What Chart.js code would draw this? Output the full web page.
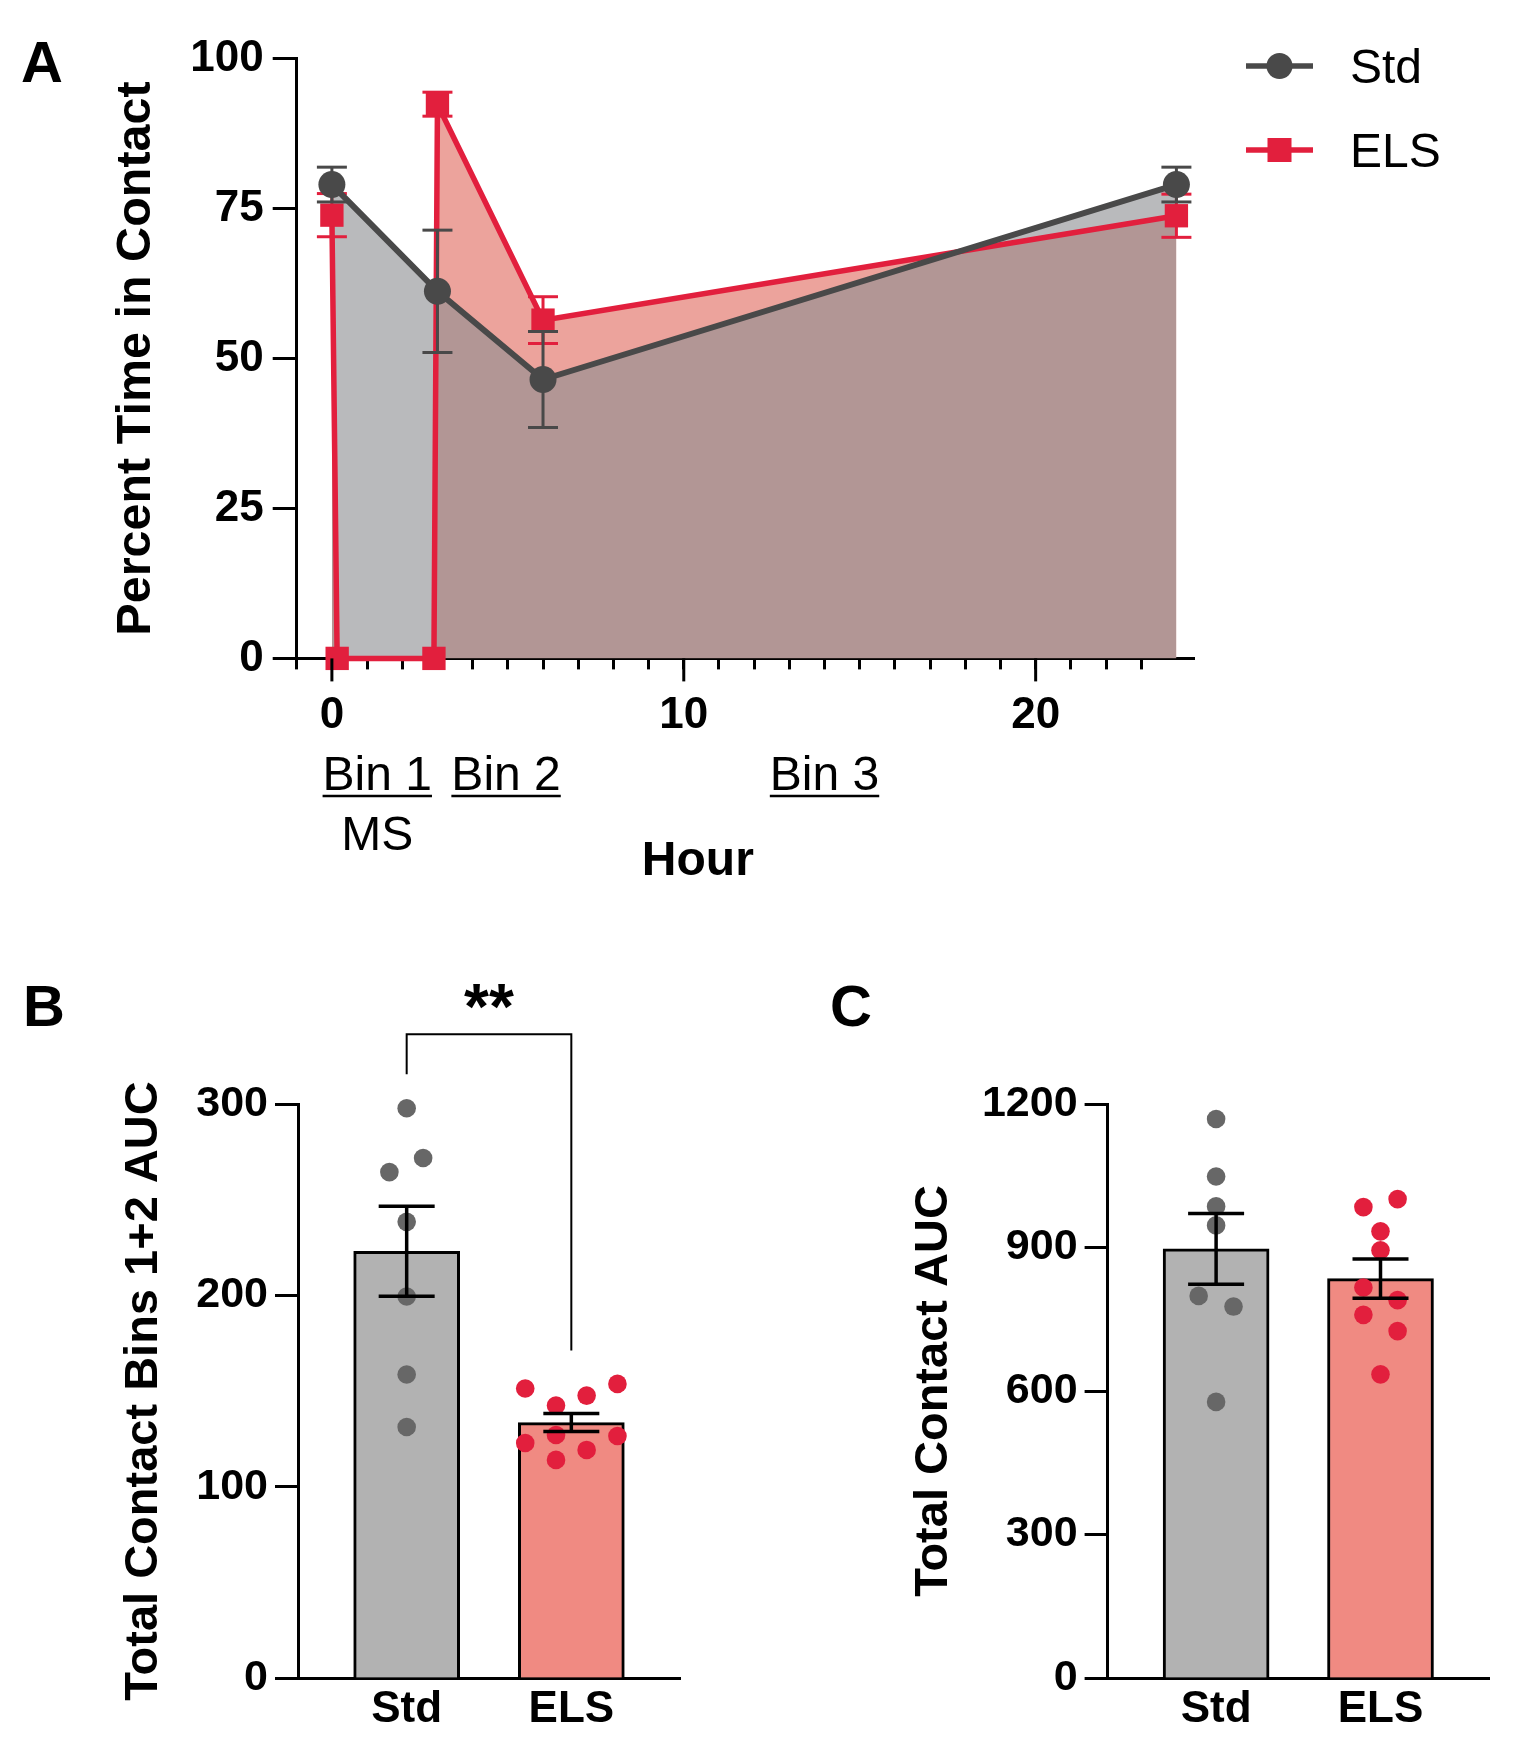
<!DOCTYPE html>
<html>
<head>
<meta charset="utf-8">
<script src="https://cdn.jsdelivr.net/npm/chart.js@4.4.1/dist/chart.umd.min.js"></script>
<style>
  html, body { margin: 0; padding: 0; background: #ffffff; }
  body { width: 1515px; height: 1752px; position: relative; overflow: hidden; }
  canvas { position: absolute; display: block; }
</style>
</head>
<body>
<canvas id="cA" width="1515" height="900" style="left:0px;top:0px;"></canvas>
<canvas id="cB" width="760" height="792" style="left:0px;top:960px;"></canvas>
<canvas id="cC" width="755" height="792" style="left:760px;top:960px;"></canvas>
<script>
// ================= DATA =================
// Panel A : percent time in contact over the day
const hoursStd = [0, 3, 6, 24];
const stdContact = [79.0, 61.2, 46.5, 79.0];
const stdContactSem = [2.9, 10.2, 8.0, 2.9];

const hoursEls = [0, 0.15, 2.9, 3, 6, 24];
const elsContact = [73.9, 0, 0, 92.4, 56.4, 73.8];
const elsContactSem = [3.6, 0, 0, 2.0, 3.9, 3.6];

const hourTickLabels = [0, 10, 20];
const contactTicks = [0, 25, 50, 75, 100];
const binLabels = ['Bin 1', 'Bin 2', 'Bin 3'];
const seriesNames = ['Std', 'ELS'];

// Panel B : total contact bins 1+2 AUC
const groups = ['Std', 'ELS'];
const binsAucMean = [223.0, 133.5];
const binsAucSem = [23.5, 4.7];
const binsAucStd = [297.8, 271.8, 264.4, 238.4, 199.4, 158.6, 131.2];
const binsAucStdJitter = [0, 0.10, -0.105, 0, 0, 0, 0];
const binsAucEls = [151.3, 142.4, 147.6, 153.7, 127.0, 122.8, 126.5, 119.2, 114.0];
const binsAucElsJitter = [-0.28, -0.093, 0.093, 0.28, -0.093, -0.28, 0.28, 0.093, -0.093];
const binsAucTicks = [0, 100, 200, 300];

// Panel C : total contact AUC
const totalAucMean = [897, 835];
const totalAucSem = [74, 41];
const totalAucStd = [1168.7, 1048.4, 985.9, 946.2, 798.8, 776.5, 577.2];
const totalAucStdJitter = [0, 0, 0, 0, -0.106, 0.106, 0];
const totalAucEls = [984.5, 1001.2, 933.8, 894.2, 816.3, 789.9, 759.2, 725.2, 634.8];
const totalAucElsJitter = [-0.104, 0.104, 0, 0, -0.104, 0.104, -0.104, 0.104, 0];
const totalAucTicks = [0, 300, 600, 900, 1200];

// ================= STYLE =================
const FONT = "'Liberation Sans', Arial, Helvetica, sans-serif";
const STD_LINE = '#494949';
const ELS_LINE = '#e21f3d';
const STD_FILL = 'rgba(140,142,145,0.61)';
const ELS_FILL = '#eca39c';
const STD_BAR = '#b2b2b2';
const ELS_BAR = '#f08a82';
const STD_DOT = '#676767';
const ELS_DOT = '#e21f3d';

Chart.defaults.font.family = FONT;
Chart.defaults.color = '#000';
Chart.defaults.animation = false;

function line(ctx, x1, y1, x2, y2) {
  ctx.beginPath(); ctx.moveTo(x1, y1); ctx.lineTo(x2, y2); ctx.stroke();
}

// error bars for the time course (drawn just before each series, after fills)
const lineErrorBars = {
  id: 'lineErrorBars',
  beforeDatasetDraw(chart, args) {
    const ds = chart.data.datasets[args.index];
    if (!ds.sem) return;
    const ctx = chart.ctx, xs = chart.scales.x, ys = chart.scales.y;
    ctx.save();
    ctx.strokeStyle = ds.borderColor;
    ctx.lineWidth = 3;
    ds.data.forEach((p, i) => {
      const s = ds.sem[i];
      if (!s) return;
      const px = xs.getPixelForValue(p.x);
      const t = ys.getPixelForValue(p.y + s), b = ys.getPixelForValue(p.y - s);
      line(ctx, px, t, px, b);
      line(ctx, px - 15, t, px + 15, t);
      line(ctx, px - 15, b, px + 15, b);
    });
    ctx.restore();
  }
};

// error bars for bar charts (on top of everything)
const barErrorBars = {
  id: 'barErrorBars',
  afterDatasetsDraw(chart) {
    const ctx = chart.ctx, xs = chart.scales.x, ys = chart.scales.y;
    chart.data.datasets.forEach(ds => {
      if (ds.type !== 'bar' || !ds.sem) return;
      ctx.save();
      ctx.strokeStyle = '#000';
      ctx.lineWidth = 3.5;
      ds.data.forEach((p, i) => {
        const px = xs.getPixelForValue(p.x);
        const t = ys.getPixelForValue(p.y + ds.sem[i]), b = ys.getPixelForValue(p.y - ds.sem[i]);
        line(ctx, px, t, px, b);
        line(ctx, px - 28, t, px + 28, t);
        line(ctx, px - 28, b, px + 28, b);
      });
      ctx.restore();
    });
  }
};

// ================= PANEL A =================
const annotA = {
  binCenters: [1.29, 4.95, 14.0],
  binBaseline: 790,
  msCenter: 1.29, msBaseline: 850,
  hourCenter: 10.4, hourBaseline: 875,
  legend: { x0: 1246, x1: 1313, textX: 1350, rows: [66, 150] }
};

const panelAExtras = {
  id: 'panelAExtras',
  afterDraw(chart) {
    const ctx = chart.ctx, xs = chart.scales.x;
    const bottom = chart.chartArea.bottom;
    ctx.save();
    // long major ticks
    ctx.strokeStyle = '#000'; ctx.lineWidth = 3;
    hourTickLabels.forEach(v => {
      const px = xs.getPixelForValue(v);
      line(ctx, px, bottom, px, bottom + 23);
    });
    // panel letter
    ctx.fillStyle = '#000';
    ctx.font = `bold 58px ${FONT}`;
    ctx.textAlign = 'left'; ctx.textBaseline = 'alphabetic';
    ctx.fillText('A', 21, 82);
    // bin labels (underlined)
    ctx.font = `48px ${FONT}`;
    ctx.textAlign = 'center';
    binLabels.forEach((t, i) => {
      const cx = xs.getPixelForValue(annotA.binCenters[i]);
      ctx.fillText(t, cx, annotA.binBaseline);
      const w = ctx.measureText(t).width;
      ctx.lineWidth = 2.5;
      line(ctx, cx - w / 2, annotA.binBaseline + 6, cx + w / 2, annotA.binBaseline + 6);
    });
    ctx.fillText('MS', xs.getPixelForValue(annotA.msCenter), annotA.msBaseline);
    // x title
    ctx.font = `bold 48px ${FONT}`;
    ctx.fillText('Hour', xs.getPixelForValue(annotA.hourCenter), annotA.hourBaseline);
    // legend
    const L = annotA.legend;
    chart.data.datasets.forEach((ds, i) => {
      const y = L.rows[i];
      ctx.strokeStyle = ds.borderColor; ctx.lineWidth = 5.5;
      line(ctx, L.x0, y, L.x1, y);
      ctx.fillStyle = ds.borderColor;
      const cx = (L.x0 + L.x1) / 2;
      if (ds.pointStyle === 'circle') {
        ctx.beginPath(); ctx.arc(cx, y, 13, 0, Math.PI * 2); ctx.fill();
      } else {
        ctx.fillRect(cx - 12, y - 12, 24, 24);
      }
      ctx.fillStyle = '#000';
      ctx.font = `48px ${FONT}`;
      ctx.textAlign = 'left';
      ctx.fillText(ds.label, L.textX, y + 17);
    });
    ctx.restore();
  }
};

new Chart(document.getElementById('cA'), {
  type: 'line',
  data: {
    datasets: [
      {
        label: seriesNames[0],
        data: hoursStd.map((h, i) => ({ x: h, y: stdContact[i] })),
        sem: stdContactSem,
        borderColor: STD_LINE, backgroundColor: STD_FILL, fill: 'origin',
        borderWidth: 6, tension: 0,
        pointStyle: 'circle', pointRadius: 13.5, pointBorderWidth: 0,
        pointBackgroundColor: STD_LINE, pointBorderColor: STD_LINE,
        clip: false
      },
      {
        label: seriesNames[1],
        data: hoursEls.map((h, i) => ({ x: h, y: elsContact[i] })),
        sem: elsContactSem,
        borderColor: ELS_LINE, backgroundColor: ELS_FILL, fill: 'origin',
        borderWidth: 5.5, tension: 0,
        pointStyle: 'rect', pointRadius: 16.5, pointBorderWidth: 0,
        pointBackgroundColor: ELS_LINE, pointBorderColor: ELS_LINE,
        clip: false
      }
    ]
  },
  options: {
    responsive: false,
    animation: false,
    events: [],
    layout: { padding: { left: 108, top: 58.6, right: 321, bottom: 0 } },
    plugins: {
      legend: { display: false },
      tooltip: { enabled: false },
      filler: { drawTime: 'beforeDatasetsDraw' }
    },
    scales: {
      x: {
        type: 'linear', min: -1, max: 24.5,
        afterFit(s) { s.height = 241.6; },
        afterBuildTicks(s) { s.ticks = s.ticks.filter(t => Number.isInteger(t.value)); },
        ticks: {
          stepSize: 1, autoSkip: false, maxRotation: 0, minRotation: 0,
          padding: 20, color: '#000',
          font: { size: 44, weight: 'bold' },
          callback: v => hourTickLabels.includes(v) ? String(v) : ''
        },
        grid: { drawOnChartArea: false, drawTicks: true, tickLength: 11, tickWidth: 3, tickColor: '#000' },
        border: { color: '#000', width: 3 }
      },
      y: {
        type: 'linear', min: 0, max: 100,
        afterFit(s) { s.width = 188.7; },
        afterBuildTicks(s) { s.ticks = contactTicks.map(v => ({ value: v })); },
        ticks: { padding: 9, color: '#000', font: { size: 44, weight: 'bold' },
                 callback: v => String(v) },
        grid: { drawOnChartArea: false, drawTicks: true, tickLength: 24, tickWidth: 3, tickColor: '#000' },
        border: { color: '#000', width: 3 },
        title: { display: true, text: 'Percent Time in Contact', color: '#000', padding: 0,
                 font: { size: 48.5, weight: 'bold' } }
      }
    }
  },
  plugins: [lineErrorBars, panelAExtras]
});

// ================= PANELS B & C =================
function barPanel(canvasId, cfg) {
  const extras = {
    id: 'extras_' + canvasId,
    afterDraw(chart) {
      const ctx = chart.ctx, xs = chart.scales.x, ys = chart.scales.y;
      ctx.save();
      ctx.fillStyle = '#000';
      ctx.font = `bold 58px ${FONT}`;
      ctx.textAlign = 'left'; ctx.textBaseline = 'alphabetic';
      ctx.fillText(cfg.letter, cfg.letterX, 66);
      if (cfg.bracket) {
        const b = cfg.bracket;
        const x1 = xs.getPixelForValue(1), x2 = xs.getPixelForValue(2);
        const yt = ys.getPixelForValue(b.top);
        ctx.strokeStyle = '#000'; ctx.lineWidth = 2;
        ctx.beginPath();
        ctx.moveTo(x1, ys.getPixelForValue(b.left));
        ctx.lineTo(x1, yt); ctx.lineTo(x2, yt);
        ctx.lineTo(x2, ys.getPixelForValue(b.right));
        ctx.stroke();
        ctx.font = `bold 64px ${FONT}`;
        ctx.textAlign = 'center';
        ctx.fillText(b.text, (x1 + x2) / 2, yt - 5);
      }
      ctx.restore();
    }
  };
  new Chart(document.getElementById(canvasId), {
    type: 'bar',
    data: {
      datasets: [
        {
          type: 'bar',
          data: groups.map((g, i) => ({ x: i + 1, y: cfg.mean[i] })),
          sem: cfg.sem,
          backgroundColor: [STD_BAR, ELS_BAR],
          borderColor: '#000', borderWidth: 3, borderSkipped: 'start',
          barThickness: 106, order: 2
        },
        {
          type: 'scatter',
          data: cfg.stdPts.map((v, i) => ({ x: 1 + cfg.stdJit[i], y: v })),
          pointRadius: 9.3, pointBorderWidth: 0,
          backgroundColor: STD_DOT, pointBackgroundColor: STD_DOT,
          order: 1, clip: false
        },
        {
          type: 'scatter',
          data: cfg.elsPts.map((v, i) => ({ x: 2 + cfg.elsJit[i], y: v })),
          pointRadius: 9.3, pointBorderWidth: 0,
          backgroundColor: ELS_DOT, pointBackgroundColor: ELS_DOT,
          order: 0, clip: false
        }
      ]
    },
    options: {
      responsive: false,
      animation: false,
      events: [],
      layout: { padding: { left: cfg.padLeft, top: 144, right: cfg.padRight, bottom: 0 } },
      plugins: { legend: { display: false }, tooltip: { enabled: false } },
      scales: {
        x: {
          type: 'linear', min: 0.34, max: 2.66, offset: false,
          afterFit(s) { s.height = 74; },
          afterBuildTicks(s) { s.ticks = groups.map((g, i) => ({ value: i + 1 })); },
          ticks: { autoSkip: false, maxRotation: 0, padding: 5, color: '#000',
                   font: { size: 44, weight: 'bold' },
                   callback: v => groups[v - 1] },
          grid: { display: false, drawTicks: false },
          border: { color: '#000', width: 3 }
        },
        y: {
          type: 'linear', min: 0, max: cfg.ticks[cfg.ticks.length - 1],
          afterFit(s) { s.width = cfg.yWidth; },
          afterBuildTicks(s) { s.ticks = cfg.ticks.map(v => ({ value: v })); },
          ticks: { padding: 7, color: '#000', font: { size: 43, weight: 'bold' },
                   callback: v => String(v) },
          grid: { drawOnChartArea: false, drawTicks: true, tickLength: 23, tickWidth: 3, tickColor: '#000' },
          border: { color: '#000', width: 3 },
          title: { display: true, text: cfg.title, color: '#000', padding: 0,
                   font: { size: 47, weight: 'bold' } }
        }
      }
    },
    plugins: [barErrorBars, extras]
  });
}

barPanel('cB', {
  letter: 'B', letterX: 23,
  mean: binsAucMean, sem: binsAucSem,
  stdPts: binsAucStd, stdJit: binsAucStdJitter,
  elsPts: binsAucEls, elsJit: binsAucElsJitter,
  ticks: binsAucTicks,
  title: 'Total Contact Bins 1+2 AUC',
  padLeft: 115.5, yWidth: 182.5, padRight: 80,
  bracket: { left: 315.6, top: 336.5, right: 171.2, text: '**' }
});

barPanel('cC', {
  letter: 'C', letterX: 70,
  mean: totalAucMean, sem: totalAucSem,
  stdPts: totalAucStd, stdJit: totalAucStdJitter,
  elsPts: totalAucEls, elsJit: totalAucElsJitter,
  ticks: totalAucTicks,
  title: 'Total Contact AUC',
  padLeft: 145.8, yWidth: 201.8, padRight: 26,
  bracket: null
});
</script>
</body>
</html>
